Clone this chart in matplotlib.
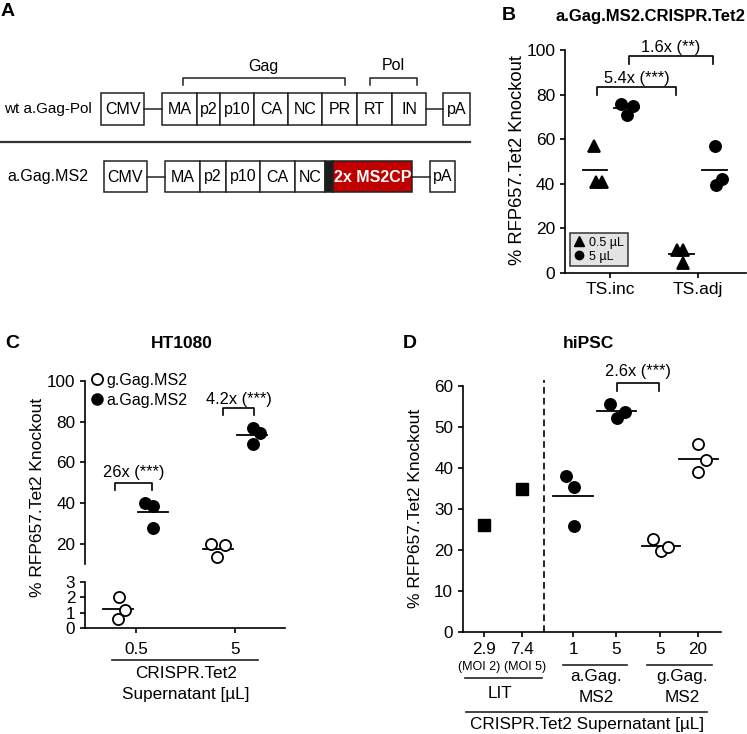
import numpy as np
import matplotlib.pyplot as plt
from matplotlib.patches import Rectangle
from matplotlib.lines import Line2D

plt.rcParams['font.family'] = ['Liberation Sans', 'DejaVu Sans']

W, H = 747, 734   # figure size in pixels

# ---- data -------------------------------------------------------------
# A: constructs
wt_parts = ['MA', 'p2', 'p10', 'CA', 'NC', 'PR', 'RT', 'IN']
ms2_parts = ['MA', 'p2', 'p10', 'CA', 'NC']

# B: a.Gag.MS2.CRISPR.Tet2
b_groups = ['TS.inc', 'TS.adj']
b_low = [[57, 41, 41], [10.5, 10.5, 4.5]]      # 0.5 uL (triangles)
b_high = [[76, 75, 71], [57, 42, 39.5]]        # 5 uL (circles)
b_labels = ['5.4x (***)', '1.6x (**)']

# C: HT1080
c_doses = ['0.5', '5']
c_g = [[2.0, 1.2, 0.6], [19.7, 19.4, 13.6]]     # g.Gag.MS2 (open)
c_a = [[40.2, 38.5, 27.6], [77.0, 74.6, 69.0]]  # a.Gag.MS2 (filled)
c_labels = ['26x (***)', '4.2x (***)']

# D: hiPSC
d_ticks = ['2.9', '7.4', '1', '5', '5', '20']
d_lit = [26.0, 34.7]
d_a = [[38.0, 35.2, 25.9], [55.5, 52.2, 53.7]]
d_g = [[22.5, 19.8, 20.7], [45.7, 41.9, 39.0]]
d_labels = ['2.6x (***)']

ylab = '% RFP657.Tet2 Knockout'


def rect(x0, y0, x1, y1):
    # pixel box (top-left origin) -> figure fraction
    return [x0 / W, 1 - y1 / H, (x1 - x0) / W, (y1 - y0) / H]


def style(ax, fs):
    for s in ['top', 'right']:
        ax.spines[s].set_visible(False)
    for s in ['left', 'bottom']:
        ax.spines[s].set_linewidth(1.2)
    ax.tick_params(direction='out', length=3.6, width=1.2, labelsize=fs)


def bracket(ax, x0, x1, y, drop, text, ty):
    ax.plot([x0, x0, x1, x1], [y - drop, y, y, y - drop], color='k', lw=1.2, clip_on=False)
    ax.text((x0 + x1) / 2, ty, text, ha='center', va='center', fontsize=11.8)


def dots(ax, x, vals, offs, marker, filled=True, ms=8):
    fc = 'k' if filled else 'white'
    ax.plot(x + np.array(offs), vals, ls='none', marker=marker, ms=ms,
            mfc=fc, mec='k', mew=1.3, clip_on=False, zorder=3)


def meanline(ax, x, vals, half):
    m = np.mean(vals)
    ax.plot([x - half, x + half], [m, m], color='k', lw=1.3, zorder=2)


fig = plt.figure(figsize=(W / 100, H / 100), dpi=100)

ov = fig.add_axes([0, 0, 1, 1])
ov.set_xlim(0, W)
ov.set_ylim(H, 0)
ov.axis('off')

# ---- A ----------------------------------------------------------------
def box(x0, y0, x1, y1, txt, fc='white', tc='k', bold=False):
    ov.add_patch(Rectangle((x0, y0), x1 - x0, y1 - y0, facecolor=fc, edgecolor='#222', lw=1.1))
    if txt:
        ov.text((x0 + x1) / 2, (y0 + y1) / 2 + 0.5, txt, ha='center', va='center', fontsize=11.5,
                color=tc, fontweight='bold' if bold else 'normal')


ov.text(1, 12, 'A', fontsize=14, fontweight='bold', va='center')
ov.text(92, 109, 'wt a.Gag-Pol', ha='right', va='center', fontsize=11)
box(101, 93, 144, 125, 'CMV')
ov.plot([144, 162], [109, 109], color='#222', lw=1.1)
wt_edges = [162, 197, 220, 254, 288, 322, 357, 392, 426]
for i, name in enumerate(wt_parts):
    box(wt_edges[i], 93, wt_edges[i + 1], 125, name)
ov.plot([426, 443], [109, 109], color='#222', lw=1.1)
box(443, 93, 470, 125, 'pA')
ov.plot([183, 183, 345, 345], [85, 78, 78, 85], color='#222', lw=1.1)
ov.text(263, 66, 'Gag', ha='center', va='center', fontsize=11.5)
ov.plot([370, 370, 417, 417], [85, 78, 78, 85], color='#222', lw=1.1)
ov.text(393, 66, 'Pol', ha='center', va='center', fontsize=11.5)

ov.plot([0, 470], [142, 142], color='#333', lw=1.6)

ov.text(88, 177, 'a.Gag.MS2', ha='right', va='center', fontsize=11.5)
box(104, 161, 147, 192, 'CMV')
ov.plot([147, 165], [177, 177], color='#222', lw=1.1)
ms2_edges = [165, 200, 226, 260, 295, 325]
for i, name in enumerate(ms2_parts):
    box(ms2_edges[i], 161, ms2_edges[i + 1], 192, name)
box(325, 161, 333, 192, '', fc='#1c1c1c')
box(333, 161, 412, 192, '2x MS2CP', fc='#c00000', tc='white', bold=True)
ov.plot([412, 430], [177, 177], color='#222', lw=1.1)
box(430, 161, 455, 192, 'pA')

# ---- B ----------------------------------------------------------------
axb = fig.add_axes(rect(565, 50, 746, 273))
style(axb, 12.5)
axb.set_ylim(0, 100)
axb.set_xlim(-0.511, 1.546)
axb.set_yticks([0, 20, 40, 60, 80, 100])
axb.set_xticks([0, 1])
axb.set_xticklabels(b_groups)
axb.tick_params(axis='x', pad=3)
tri_offs = [[-0.18, -0.16, -0.09], [-0.24, -0.17, -0.17]]
cir_offs = [[0.125, 0.26, 0.19], [0.19, 0.27, 0.2]]
for i in range(2):
    meanline(axb, i - 0.17 - 0.02 * i, b_low[i], 0.14)
    meanline(axb, i + 0.19, b_high[i], 0.14)
    dots(axb, i, b_low[i], tri_offs[i], '^', ms=8.5)
    dots(axb, i, b_high[i], cir_offs[i], 'o', ms=8)
bracket(axb, -0.15, 0.75, 83.4, 3.4, b_labels[0], 87)
bracket(axb, 0.22, 1.17, 97.3, 3.4, b_labels[1], 101)
hb = [Line2D([], [], ls='none', marker='^', color='k', ms=6.5),
      Line2D([], [], ls='none', marker='o', color='k', ms=6)]
lg = axb.legend(hb, ['0.5 µL', '5 µL'], loc='lower left', bbox_to_anchor=(0.03, 0.03),
                fontsize=9, frameon=True, fancybox=False, facecolor='#e3e3e3', edgecolor='#333',
                framealpha=1, handlelength=0.8, handletextpad=0.4, borderpad=0.3,
                labelspacing=0.15, borderaxespad=0)
lg.get_frame().set_linewidth(1.1)
ov.text(502, 16, 'B', fontsize=14, fontweight='bold', va='center')
ov.text(650, 16, 'a.Gag.MS2.CRISPR.Tet2', ha='center', va='center', fontsize=12, fontweight='bold')
ov.text(518, 160, ylab, rotation=90, ha='center', va='center', fontsize=13.2)

# ---- C ----------------------------------------------------------------
xl = (-0.515, 1.505)
axc = fig.add_axes(rect(85, 381, 285, 564))
style(axc, 12.3)
axc.spines['bottom'].set_visible(False)
axc.set_ylim(10, 100)
axc.set_xlim(*xl)
axc.set_yticks([20, 40, 60, 80, 100])
axc.set_xticks([])
axc2 = fig.add_axes(rect(85, 581.7, 285, 628.3))
style(axc2, 12.3)
axc2.set_ylim(0, 3)
axc2.set_xlim(*xl)
axc2.set_yticks([0, 1, 2, 3])
axc2.set_xticks([0, 1])
axc2.set_xticklabels(c_doses)
axc2.tick_params(axis='x', pad=6)

meanline(axc2, -0.18, c_g[0], 0.15)
dots(axc2, 0, c_g[0], [-0.17, -0.11, -0.18], 'o', filled=False)
meanline(axc, 0.17, c_a[0], 0.15)
dots(axc, 0, c_a[0], [0.09, 0.17, 0.17], 'o')
meanline(axc, 1 - 0.17, c_g[1], 0.15)
dots(axc, 1, c_g[1], [-0.24, -0.10, -0.18], 'o', filled=False)
meanline(axc, 1 + 0.17, c_a[1], 0.15)
dots(axc, 1, c_a[1], [0.18, 0.25, 0.18], 'o')
bracket(axc, -0.21, 0.16, 49.7, 3.3, c_labels[0], 54.8)
bracket(axc, 1 - 0.12, 1.19, 86.6, 3.3, c_labels[1], 91.1)
hc = [Line2D([], [], ls='none', marker='o', mfc='white', mec='k', mew=1.3, ms=8),
      Line2D([], [], ls='none', marker='o', color='k', ms=8)]
axc.legend(hc, ['g.Gag.MS2', 'a.Gag.MS2'], loc='upper left', bbox_to_anchor=(0.02, 1.045),
           fontsize=11.5, frameon=False, handlelength=1.0, handletextpad=0.1,
           labelspacing=0.3, borderaxespad=0, borderpad=0)

ov.text(5, 344, 'C', fontsize=14, fontweight='bold', va='center')
ov.text(182, 343, 'HT1080', ha='center', va='center', fontsize=12.5, fontweight='bold')
ov.text(38, 497, ylab, rotation=90, ha='center', va='center', fontsize=12.5)
ov.plot([112, 258], [660, 660], color='#222', lw=1.2)
ov.text(186, 673, 'CRISPR.Tet2', ha='center', va='center', fontsize=12.3)
ov.text(186, 695, 'Supernatant [µL]', ha='center', va='center', fontsize=12.3)

# ---- D ----------------------------------------------------------------
axd = fig.add_axes(rect(463, 385.7, 721, 631.7))
style(axd, 12.3)
axd.set_ylim(0, 60)
axd.set_xlim(0, 6.7)
axd.set_yticks([0, 10, 20, 30, 40, 50, 60])
xpos = [0.55, 1.53, 2.86, 3.97, 5.12, 6.10]
axd.set_xticks(xpos)
axd.set_xticklabels(d_ticks)
axd.tick_params(axis='x', pad=4)
axd.plot([2.11, 2.11], [0, 61.5], color='k', lw=1.2, ls=(0, (4, 2.5)), clip_on=False)
axd.plot(xpos[:2], d_lit, ls='none', marker='s', ms=8, color='k')
meanline(axd, xpos[2], d_a[0], 0.52)
dots(axd, xpos[2], d_a[0], [-0.18, 0.03, 0.03], 'o')
meanline(axd, xpos[3] + 0.02, d_a[1], 0.5)
dots(axd, xpos[3], d_a[1], [-0.16, 0.03, 0.23], 'o')
meanline(axd, xpos[4] + 0.02, d_g[0], 0.5)
dots(axd, xpos[4], d_g[0], [-0.18, 0.03, 0.21], 'o', filled=False)
meanline(axd, xpos[5] + 0.02, d_g[1], 0.5)
dots(axd, xpos[5], d_g[1], [0.0, 0.21, 0.0], 'o', filled=False)
bracket(axd, 4.0, 5.09, 60.7, 1.9, d_labels[0], 63.4)

ov.text(403, 343, 'D', fontsize=14, fontweight='bold', va='center')
ov.text(588, 343, 'hiPSC', ha='center', va='center', fontsize=12.5, fontweight='bold')
ov.text(415, 508, ylab, rotation=90, ha='center', va='center', fontsize=12.5)
ov.text(479, 667, '(MOI 2)', ha='center', va='center', fontsize=9)
ov.text(525, 667, '(MOI 5)', ha='center', va='center', fontsize=9)
ov.plot([465, 542], [678, 678], color='#222', lw=1.2)
ov.text(500, 693, 'LIT', ha='center', va='center', fontsize=12.3)
ov.plot([563, 627], [665, 665], color='#222', lw=1.2)
ov.text(596, 677, 'a.Gag.', ha='center', va='center', fontsize=12.3)
ov.text(596, 697, 'MS2', ha='center', va='center', fontsize=12.3)
ov.plot([647, 712], [665, 665], color='#222', lw=1.2)
ov.text(682, 677, 'g.Gag.', ha='center', va='center', fontsize=12.3)
ov.text(682, 697, 'MS2', ha='center', va='center', fontsize=12.3)
ov.plot([466, 707], [712, 712], color='#222', lw=1.2)
ov.text(587, 725, 'CRISPR.Tet2 Supernatant [µL]', ha='center', va='center', fontsize=12.3)

fig.savefig('out.png', dpi=100)
